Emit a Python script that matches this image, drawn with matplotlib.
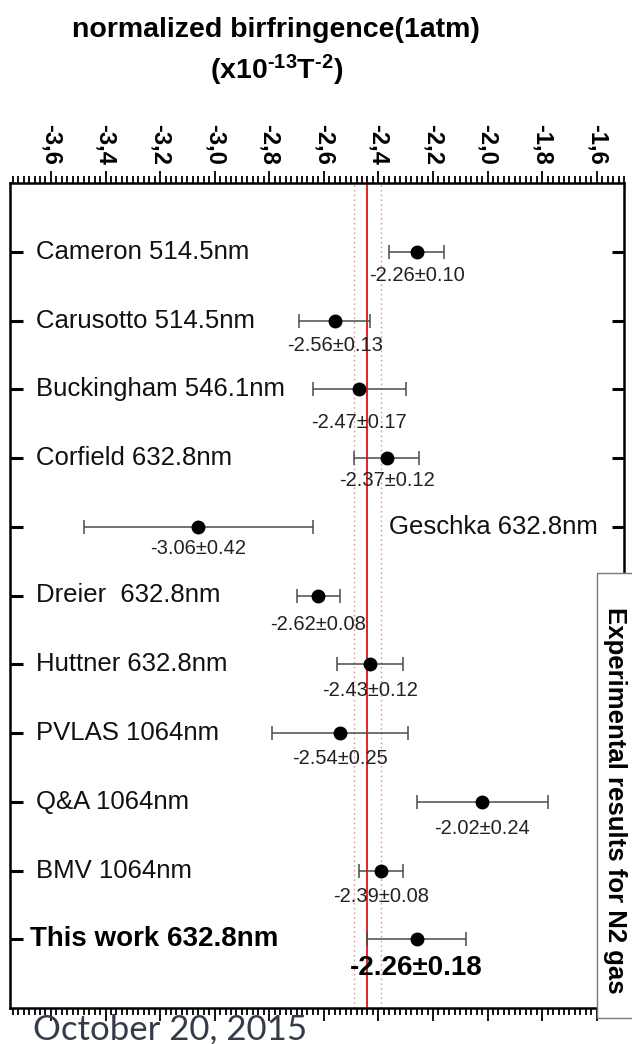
import matplotlib
matplotlib.use("Agg")
import matplotlib.pyplot as plt
from matplotlib.ticker import MultipleLocator, FixedLocator, FuncFormatter
from matplotlib.patches import Rectangle
from matplotlib.transforms import blended_transform_factory

plt.rcParams['font.family'] = ['Liberation Sans', 'DejaVu Sans']
plt.rcParams['mathtext.fontset'] = 'custom'
plt.rcParams['mathtext.rm'] = 'Liberation Sans:bold'
plt.rcParams['mathtext.bf'] = 'Liberation Sans:bold'
plt.rcParams['mathtext.it'] = 'Liberation Sans:bold'

# Measurements of the N2 magnetic birefringence (x1e-13 T^-2)
experiments = ["Cameron 514.5nm", "Carusotto 514.5nm", "Buckingham 546.1nm",
               "Corfield 632.8nm", "Geschka 632.8nm", "Dreier  632.8nm",
               "Huttner 632.8nm", "PVLAS 1064nm", "Q&A 1064nm", "BMV 1064nm",
               "This work 632.8nm"]
values = [-2.26, -2.56, -2.47, -2.37, -3.06, -2.62, -2.43, -2.54, -2.02, -2.39, -2.26]
errors = [0.10, 0.13, 0.17, 0.12, 0.42, 0.08, 0.12, 0.25, 0.24, 0.08, 0.18]

# weighted average band
mean_value = -2.44
mean_error = 0.05

x_ticks = [-3.6, -3.4, -3.2, -3.0, -2.8, -2.6, -2.4, -2.2, -2.0, -1.8, -1.6]

# vertical distance of each value label below its point (points)
label_drop = [17, 18, 24, 16, 16, 21, 19, 18, 19, 19, 21]

fig = plt.figure(figsize=(6.32, 10.44), dpi=100)
ax = fig.add_axes([10 / 632, 36 / 1044, 614 / 632, 825 / 1044])

n = len(experiments)
ypos = list(range(n))

ax.set_xlim(-3.75, -1.5)
ax.set_ylim(n, -1)

# reference lines
ax.axvline(mean_value, color='#e8202a', lw=1.4, zorder=2)
for d in (-mean_error, mean_error):
    ax.axvline(mean_value + d, color='#d89a9a', lw=1.0, ls=(0, (1.2, 2.2)), zorder=1)

for i, (name, v, e) in enumerate(zip(experiments, values, errors)):
    ours = name.startswith("This work")
    ax.errorbar(v, i, xerr=e, fmt='o', color='black', ms=9,
                ecolor='#4a4a4a', elinewidth=1.1, capsize=5, capthick=1.1, zorder=3)
    ax.annotate(f"{v:.2f}\u00b1{e:.2f}", xy=(v, i), xytext=(0, -label_drop[i]),
                textcoords='offset points', ha='center', va='center',
                fontsize=20 if ours else 14.5,
                fontweight='bold' if ours else 'normal',
                color='black' if ours else '#222222', zorder=4)

trans = blended_transform_factory(ax.transAxes, ax.transData)
for i, name in enumerate(experiments):
    if name.startswith("Geschka"):
        ax.text(0.958, i, name, transform=trans, ha='right', va='center',
                fontsize=18.5, color='#111111')
    elif name.startswith("This work"):
        ax.text(0.033, i, name, transform=trans, ha='left', va='center',
                fontsize=20, fontweight='bold', color='black')
    else:
        ax.text(0.042, i, name, transform=trans, ha='left', va='center',
                fontsize=18.5, color='#111111')

# x axis: labels on top, ticks on both sides pointing out
ax.xaxis.set_major_locator(FixedLocator(x_ticks))
ax.xaxis.set_minor_locator(MultipleLocator(0.02))
ax.xaxis.set_major_formatter(FuncFormatter(lambda v, p: f"{v:.1f}".replace('.', ',')))
ax.tick_params(axis='x', which='both', direction='out', top=True, bottom=True,
               labeltop=True, labelbottom=False, width=1.3, color='black')
ax.tick_params(axis='x', which='major', length=9, pad=4)
ax.tick_params(axis='x', which='minor', length=5)
for lbl in ax.get_xticklabels():
    lbl.set_rotation(-90)
    lbl.set_fontsize(17)
    lbl.set_fontweight('bold')
    lbl.set_va('bottom')
    lbl.set_ha('center')

# y axis: category ticks on both sides pointing in, no labels
ax.set_yticks(ypos)
ax.tick_params(axis='y', which='major', direction='in', left=True, right=True,
               labelleft=False, labelright=False, length=9, width=2.2, color='black')

for sp in ax.spines.values():
    sp.set_linewidth(1.8)
    sp.set_color('black')

# titles
fig.text(0.437, 1 - 30 / 1044, "normalized birfringence(1atm)", ha='center', va='center',
         fontsize=20.5, fontweight='bold')
fig.text(0.437, 1 - 70 / 1044, "(x10$^{\u201013}$T$^{\u20102}$)", ha='center', va='center',
         fontsize=20.5, fontweight='bold')

# side caption box
box = Rectangle((597 / 632, 26 / 1044), 0.2, 445 / 1044, transform=fig.transFigure,
                facecolor='white', edgecolor='#777777', lw=1.0, zorder=5)
fig.patches.append(box)
fig.text(615 / 632, 1 - 800 / 1044, "Experimental results for N2 gas", rotation=-90,
         ha='center', va='center', fontsize=18.5, fontweight='bold', zorder=6)

# date
fig.text(33 / 632, 1 - 1029 / 1044, "October 20, 2015", ha='left', va='center',
         fontsize=25, color='#333d4a', family=['Lato', 'DejaVu Sans'], zorder=7)

fig.savefig("out.png", dpi=100)
